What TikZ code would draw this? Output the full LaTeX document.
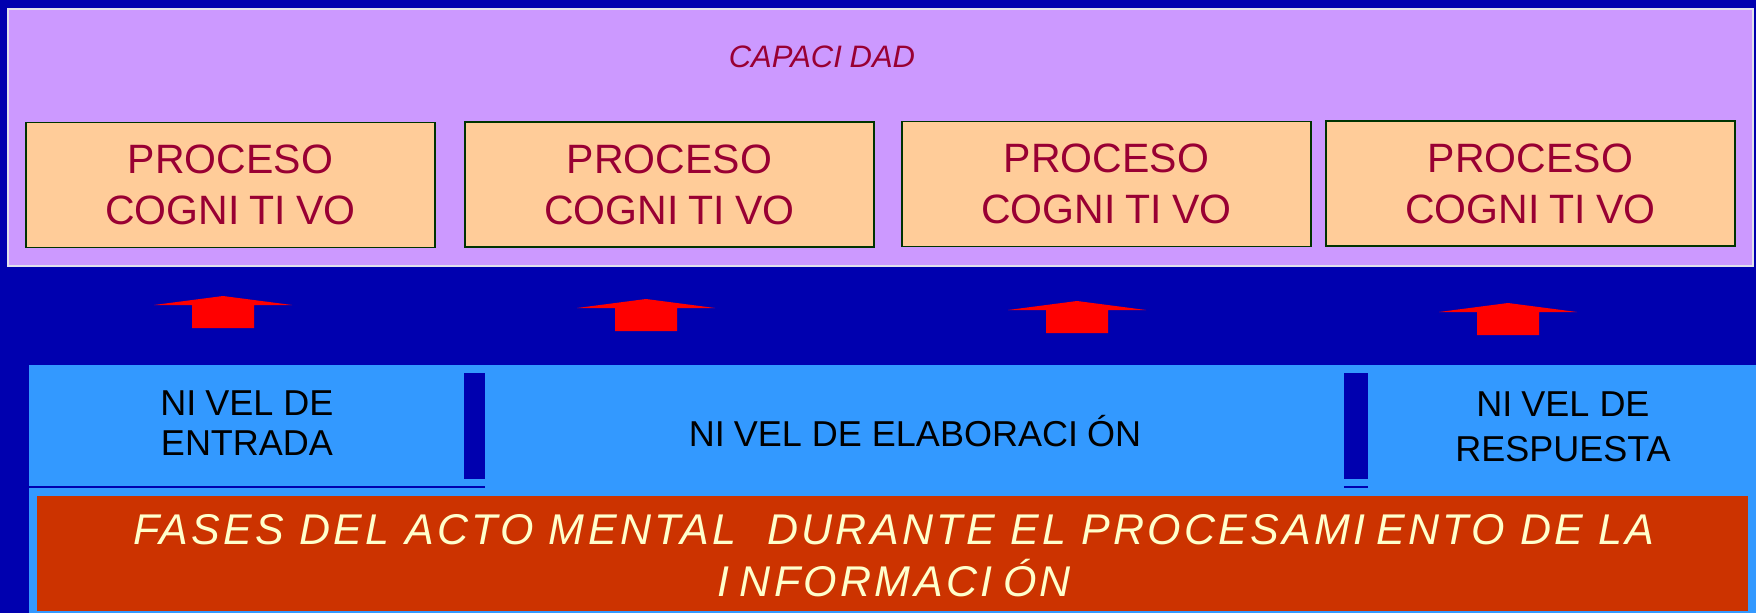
\documentclass[tikz,border=0pt]{standalone}
\usepackage{fontspec}
\setmainfont{Liberation Sans}
\definecolor{bgblue}{RGB}{0,0,175}
\definecolor{lilac}{RGB}{204,153,255}
\definecolor{panelborder}{RGB}{225,225,235}
\definecolor{peach}{RGB}{255,204,153}
\definecolor{boxgreen}{RGB}{0,51,0}
\definecolor{crimson}{RGB}{153,0,51}
\definecolor{arrowred}{RGB}{255,0,0}
\definecolor{skyblue}{RGB}{51,153,255}
\definecolor{brick}{RGB}{204,51,0}
\definecolor{cream}{RGB}{255,255,204}
\newcommand\Ik{I\kern0.25em\relax}
\tikzset{
  procbox/.style={draw=boxgreen, line width=1.5pt, fill=peach, minimum width=409pt,
    minimum height=125pt, inner sep=0pt, align=center, text=crimson,
    font=\fontsize{41}{51}\selectfont},
  nivel/.style={inner sep=0pt, align=center, text=black},
  blockup/.pic={\fill[arrowred] (-69,9) -- (0,0) -- (69,9) -- (31,9) -- (31,32)
    -- (-31,32) -- (-31,9) -- cycle;}
}
\begin{document}
\begin{tikzpicture}[x=1pt,y=-1pt]
\useasboundingbox (0,0) rectangle (1756,613);
\fill[bgblue] (0,0) rectangle (1756,613);
% top panel
\filldraw[fill=lilac, draw=panelborder, line width=1.5pt] (8,9) rectangle (1753,266);
\node[anchor=base, inner sep=0pt, text=crimson, font=\fontsize{31}{37}\selectfont\itshape]
  (capacidad) at (822,67) {CAPAC\Ik DAD};
\node[procbox] (p1) at (230.5,185) {PROCESO\\COGN\Ik T\Ik VO};
\node[procbox] (p2) at (669.5,184.5) {PROCESO\\COGN\Ik T\Ik VO};
\node[procbox] (p3) at (1106.5,184) {PROCESO\\COGN\Ik T\Ik VO};
\node[procbox] (p4) at (1530.5,183.5) {PROCESO\\COGN\Ik T\Ik VO};
% arrows
\pic at (223,296) {blockup};
\pic at (646,299) {blockup};
\pic at (1077,301) {blockup};
\pic at (1508,303) {blockup};
% lower band
\fill[skyblue] (29,365) rectangle (1756,613);
\fill[bgblue] (464,373) rectangle (485,479);
\fill[bgblue] (1344,373) rectangle (1368,479);
\draw[bgblue, line width=1.5pt] (29,487) -- (485,487);
\draw[bgblue, line width=1.5pt] (1344,487) -- (1368,487);
\node[nivel, font=\fontsize{36}{40}\selectfont] (entrada) at (247,423) {N\Ik VEL DE\\ENTRADA};
\node[nivel, anchor=base, font=\fontsize{36}{40}\selectfont] (elab) at (915,446) {N\Ik VEL DE ELABORAC\Ik ÓN};
\node[nivel, font=\fontsize{36}{45}\selectfont] (resp) at (1563,426.5) {N\Ik VEL DE\\RESPUESTA};
% bottom bar
\fill[brick] (37,496) rectangle (1748,611);
\node[inner sep=0pt, align=center, text=cream, font=\fontsize{43}{52}\selectfont\itshape\addfontfeature{LetterSpace=7.7}]
  (fases) at (894,555.5) {FASES DEL ACTO MENTAL\ \ DURANTE EL PROCESAM\Ik ENTO DE LA\\\Ik NFORMAC\Ik ÓN};
\end{tikzpicture}
\end{document}
